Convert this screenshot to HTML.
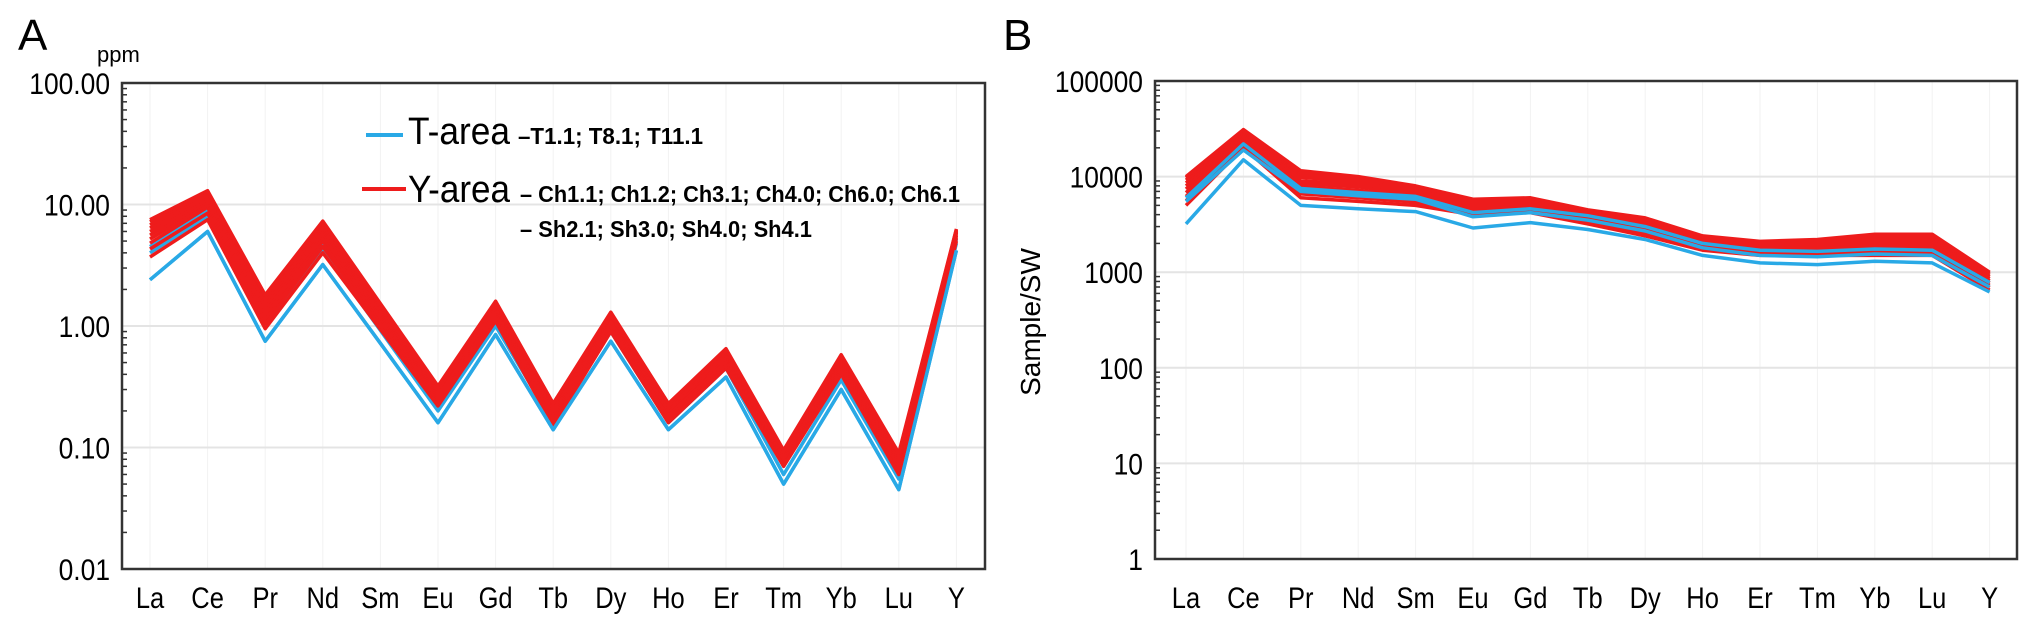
<!DOCTYPE html>
<html><head><meta charset="utf-8"><style>
html,body{margin:0;padding:0;background:#fff;}
svg{display:block;font-family:"Liberation Sans",sans-serif;}
</style></head><body>
<svg id="fig" width="2032" height="632" viewBox="0 0 2032 632" xmlns="http://www.w3.org/2000/svg">
<text x="18" y="50" font-size="44">A</text>
<text x="97" y="62" font-size="22">ppm</text>
<text x="1003" y="50" font-size="44">B</text>
<g id="ga"></g>
<g id="gb"></g>
<g>
  <line x1="366" y1="135" x2="403" y2="135" stroke="#29a9e6" stroke-width="4"/>
  <text x="408" y="144" font-size="38" textLength="102" lengthAdjust="spacingAndGlyphs">T-area</text>
  <text x="518" y="144" font-size="23" font-weight="bold" textLength="185" lengthAdjust="spacingAndGlyphs">–T1.1; T8.1; T11.1</text>
  <line x1="362" y1="189" x2="406" y2="189" stroke="#ee1c1c" stroke-width="4"/>
  <text x="408" y="202" font-size="38" textLength="102" lengthAdjust="spacingAndGlyphs">Y-area</text>
  <text x="520" y="202" font-size="23" font-weight="bold" textLength="440" lengthAdjust="spacingAndGlyphs">– Ch1.1; Ch1.2; Ch3.1; Ch4.0; Ch6.0; Ch6.1</text>
  <text x="520" y="237" font-size="23" font-weight="bold" textLength="292" lengthAdjust="spacingAndGlyphs">– Sh2.1; Sh3.0; Sh4.0; Sh4.1</text>
</g>
<text transform="translate(1040,322) rotate(-90)" text-anchor="middle" font-size="28">Sample/SW</text>
</svg>
<script>
const categories = ["La","Ce","Pr","Nd","Sm","Eu","Gd","Tb","Dy","Ho","Er","Tm","Yb","Lu","Y"];
const ticksA = ["0.01","0.10","1.00","10.00","100.00"];
const tickValsA = [0.01,0.1,1,10,100];
const ticksB = ["1","10","100","1000","10000","100000"];
const tickValsB = [1,10,100,1000,10000,100000];
const blueA = [
 [2.4,6.0,0.75,3.2,0.72,0.16,0.85,0.14,0.75,0.14,0.38,0.05,0.30,0.045,4.2],
 [4.0,8.0,1.0,4.2,0.92,0.20,1.0,0.16,0.90,0.16,0.45,0.06,0.36,0.055,4.8],
 [4.5,9.0,1.1,4.6,1.0,0.22,1.1,0.18,1.0,0.18,0.50,0.07,0.42,0.06,5.2]
];
const redA = [
 [3.7,7.5,0.95,4.0,0.94,0.22,1.1,0.15,0.9,0.16,0.45,0.07,0.40,0.06,5.0],
 [4.3,8.5,1.05,4.5,1.02,0.23,1.2,0.16,0.95,0.17,0.48,0.072,0.43,0.065,5.3],
 [4.8,9.5,1.15,5.0,1.1,0.24,1.25,0.17,1.0,0.18,0.50,0.075,0.45,0.068,5.5],
 [5.2,10,1.25,5.4,1.17,0.25,1.3,0.18,1.05,0.19,0.52,0.078,0.47,0.07,5.6],
 [5.6,10.5,1.35,5.8,1.24,0.26,1.35,0.19,1.1,0.20,0.55,0.08,0.49,0.074,5.8],
 [6.0,11,1.45,6.2,1.3,0.27,1.4,0.20,1.15,0.20,0.57,0.082,0.51,0.077,5.9],
 [6.4,11.5,1.55,6.5,1.36,0.28,1.45,0.21,1.2,0.21,0.59,0.085,0.53,0.08,6.0],
 [6.8,12,1.65,6.8,1.42,0.29,1.5,0.22,1.22,0.22,0.61,0.088,0.55,0.083,6.1],
 [7.2,12.5,1.75,7.1,1.47,0.30,1.55,0.23,1.25,0.23,0.63,0.092,0.57,0.087,6.2],
 [7.5,13,1.8,7.3,1.53,0.32,1.6,0.23,1.3,0.23,0.65,0.095,0.58,0.09,6.3]
];
const blueB = [
 [3200,15000,5000,4600,4300,2900,3300,2800,2200,1500,1250,1200,1300,1250,620],
 [5500,19000,7000,6300,5800,3800,4200,3500,2700,1800,1500,1450,1550,1500,700],
 [6000,22000,7500,6800,6200,4200,4600,3900,3000,2000,1700,1650,1750,1700,780]
];
const redB = [
 [5000,20000,6000,5500,5000,4000,4200,3200,2400,1700,1500,1500,1500,1500,650],
 [5600,21500,6600,6000,5400,4200,4400,3400,2550,1780,1570,1580,1620,1620,690],
 [6200,23000,7200,6600,5800,4400,4600,3550,2700,1860,1640,1660,1740,1740,730],
 [6800,24500,7800,7200,6200,4600,4800,3700,2850,1940,1710,1740,1860,1860,770],
 [7400,26000,8400,7800,6600,4800,5000,3850,3000,2020,1780,1820,1980,1980,810],
 [8000,27000,9000,8400,7000,5000,5200,4000,3150,2100,1850,1900,2100,2100,850],
 [8600,28000,9800,8900,7300,5200,5400,4150,3300,2180,1920,1980,2220,2220,890],
 [9200,29000,10500,9300,7600,5400,5600,4300,3450,2260,1990,2060,2340,2340,930],
 [9700,30000,11000,9700,7800,5600,5800,4400,3600,2340,2050,2130,2420,2420,970],
 [10000,31000,11500,10000,8000,5800,6000,4500,3700,2400,2100,2200,2500,2500,1000]
];
const NS="http://www.w3.org/2000/svg";
function mk(p,tag,a){const e=document.createElementNS(NS,tag);for(const k in a)e.setAttribute(k,a[k]);p.appendChild(e);return e;}
function draw(g,cfg,blue,red,ticks,tickVals,blueTop){
  const L=cfg.l,R=cfg.r,T=cfg.t,B=cfg.b;
  const lmin=Math.log10(tickVals[0]),lmax=Math.log10(tickVals[tickVals.length-1]);
  const y=v=>B-(Math.log10(v)-lmin)/(lmax-lmin)*(B-T);
  const x=i=>cfg.x0+i*cfg.dx;
  for(let i=0;i<categories.length;i++){
    const gl=mk(g,'line',{x1:x(i),x2:x(i),y1:T,y2:B,stroke:'#f2f2f2','stroke-width':1});
    
    
    const t=mk(g,'text',{x:x(i),y:608,'text-anchor':'middle','font-size':30,transform:`translate(${x(i)},0) scale(0.85,1) translate(${-x(i)},0)`});
    t.textContent=categories[i];
    
    
  }
  tickVals.forEach((v,k)=>{
    const gl=mk(g,'line',{x1:L,x2:R,y1:y(v),y2:y(v),stroke:'#e4e4e4','stroke-width':2});
    
    
    const t=mk(g,'text',{x:cfg.lx,y:y(v)+11,'text-anchor':'end','font-size':30,transform:`translate(${cfg.lx},0) scale(0.88,1) translate(${-cfg.lx},0)`});
    t.textContent=ticks[k];
    
    
    if(k<tickVals.length-1){for(let m=2;m<=9;m++){const tv=v*m;
      const tk=mk(g,'line',{x1:L,x2:L+5,y1:y(tv),y2:y(tv),stroke:'#333','stroke-width':1.5});
      
      }}
  });
  const path=(arr)=>arr.map((v,i)=>(i?'L':'M')+x(i).toFixed(1)+','+y(v).toFixed(1)).join(' ');
  const drawBlue=()=>blue.forEach(s=>{const p=mk(g,'path',{d:path(s),fill:'none',stroke:'#29a9e6','stroke-width':3.5,'stroke-linejoin':'round'});
    
    });
  if(!blueTop) drawBlue();
  red.forEach(s=>{const p=mk(g,'path',{d:path(s),fill:'none',stroke:'#ee1c1c','stroke-width':3.5,'stroke-linejoin':'round'});
    
    });
  if(blueTop) drawBlue();
  else {
    const p2=mk(g,'path',{d:path(blue[0]),fill:'none',stroke:'#29a9e6','stroke-width':3.5,'stroke-linejoin':'round'});
    
    
  }
  const fr=mk(g,'rect',{x:L,y:T,width:R-L,height:B-T,fill:'none',stroke:'#333','stroke-width':2.5});
  
  
}
draw(document.getElementById('ga'),{l:122,r:985,t:83,b:569,x0:150,dx:57.6,lx:110},blueA,redA,ticksA,tickValsA,false);
draw(document.getElementById('gb'),{l:1155,r:2017,t:81,b:559,x0:1186,dx:57.4,lx:1143},blueB,redB,ticksB,tickValsB,true);
</script>
</body></html>
